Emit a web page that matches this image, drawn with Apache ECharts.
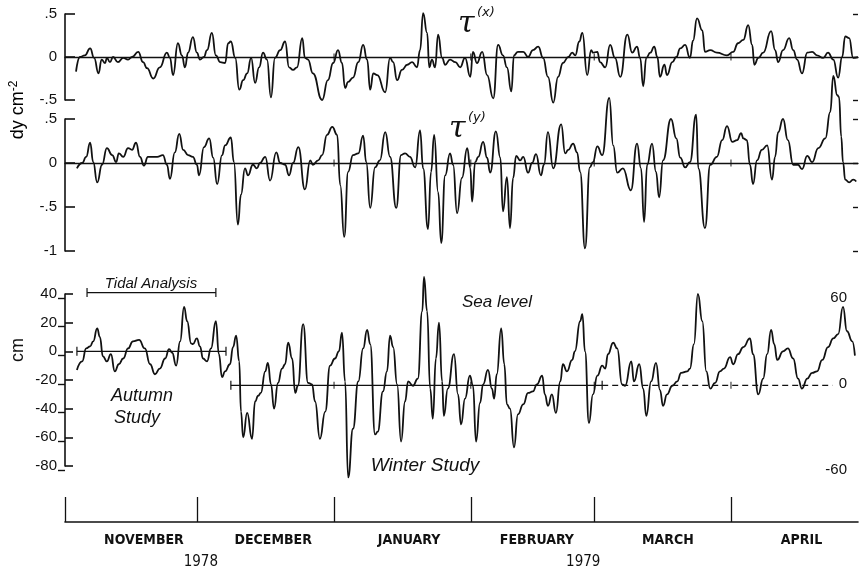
<!DOCTYPE html>
<html><head><meta charset="utf-8">
<script src="https://cdn.jsdelivr.net/npm/echarts@6/dist/echarts.min.js"></script>
<style>html,body{margin:0;padding:0;background:#fff}#c{width:859px;height:573px}</style>
</head><body><div id="c"></div>
<script>
// x values are days since 1 Nov 1978
const tauxDay = [2.5,3.4,4.5,5.7,6.6,7.6,8.3,9.1,9.5,10.2,10.9,12.0,13.2,14.3,15.2,16.6,17.7,18.6,20.0,21.5,23.1,23.8,24.5,25.6,26.5,27.2,27.9,29.0,29.9,30.6,31.5,32.2,33.3,34.2,35.2,36.3,37.0,37.6,38.6,39.5,40.4,41.3,42.2,43.1,44.0,44.9,45.8,46.7,47.6,48.8,49.9,50.8,51.7,52.6,53.8,54.4,55.1,56.2,58.3,59.6,60.8,61.9,62.8,63.5,64.2,65.3,66.5,67.6,68.5,69.2,69.9,70.8,72.6,73.7,74.4,75.3,76.4,77.6,78.7,79.8,80.5,81.2,82.1,82.6,83.2,83.9,84.6,85.5,86.2,87.3,88.5,89.6,90.7,91.9,92.5,93.4,94.6,95.7,97.1,98.2,99.3,100.2,101.2,101.8,102.7,103.9,105.0,106.1,107.3,108.4,109.5,110.7,111.8,112.9,114.1,115.0,115.7,116.6,117.3,118.4,119.3,119.7,120.7,121.3,122.5,123.6,124.7,125.9,127.5,128.6,129.7,130.4,131.1,131.8,132.7,133.6,134.3,134.9,135.9,136.5,137.7,138.6,139.5,140.6,141.7,142.4,143.3,144.5,145.1,146.3,147.8,150.1,151.5,152.6,153.8,154.9,155.8,156.3,157.2,158.3,160.1,161.0,161.7,162.8,164.2,165.1,166.0,167.1,168.3,169.4,170.5,171.9,173.0,174.2,175.3,176.2,176.9,177.8,178.7,179.8];
const tauxVal = [-0.17,0.0,0.02,0.10,-0.01,-0.19,-0.03,-0.07,-0.01,-0.06,0.0,-0.06,-0.01,-0.03,0.0,0.06,-0.06,-0.13,-0.25,-0.12,0.05,-0.01,-0.21,0.16,0.02,-0.12,0.05,0.23,0.05,-0.03,0.0,0.08,0.28,0.02,-0.06,-0.07,0.16,0.18,-0.01,-0.38,-0.27,-0.19,-0.01,-0.30,-0.12,0.05,-0.03,-0.47,-0.01,0.08,0.18,-0.12,-0.15,-0.12,0.22,-0.01,-0.03,-0.19,-0.50,-0.27,-0.07,0.08,-0.07,-0.36,-0.29,-0.24,-0.06,0.14,-0.03,-0.38,-0.19,-0.21,-0.41,-0.01,-0.06,-0.27,-0.15,-0.09,-0.06,-0.12,0.08,0.51,0.28,-0.12,-0.03,-0.12,0.26,-0.01,-0.09,-0.03,-0.06,-0.12,-0.01,-0.23,0.06,-0.07,0.06,-0.21,-0.48,0.14,0.02,-0.12,-0.40,0.02,0.06,0.06,0.0,0.08,0.12,-0.01,-0.23,-0.53,-0.23,-0.07,0.0,0.05,0.02,0.18,0.28,-0.21,0.08,0.05,0.06,-0.06,-0.12,0.14,-0.01,-0.23,0.26,0.05,0.12,-0.01,-0.34,-0.01,0.05,0.12,0.0,-0.23,-0.09,-0.21,-0.06,0.0,0.10,0.14,-0.01,0.19,0.45,0.31,0.06,0.08,0.05,0.02,0.06,0.16,0.20,0.37,0.14,-0.09,-0.01,0.05,0.30,0.08,-0.06,0.08,0.22,0.08,-0.03,-0.19,0.05,0.06,0.02,-0.01,0.05,-0.03,-0.24,0.0,0.24,0.22,-0.01,0.0];

const tauyDay = [2.7,3.9,4.8,5.7,6.4,7.3,8.4,9.5,10.7,11.6,12.2,13.2,14.3,15.2,16.1,17.0,17.9,18.8,20.9,22.2,23.1,23.8,24.9,25.9,26.8,27.9,29.0,29.9,30.4,31.5,32.7,33.6,34.5,35.6,36.3,37.6,38.3,39.2,39.9,40.8,41.5,42.6,43.5,44.2,45.4,46.5,47.9,48.8,49.9,50.8,51.7,52.9,54.4,55.6,56.2,57.4,58.3,59.4,60.6,61.7,62.4,63.3,64.2,65.3,66.5,67.6,68.3,69.2,70.3,71.4,72.6,73.7,75.1,76.2,77.1,78.2,79.4,80.5,81.2,82.3,83.0,83.7,84.6,85.3,86.2,87.3,88.0,88.9,90.0,91.2,91.9,92.3,93.0,93.7,94.8,95.7,96.4,97.7,98.7,99.3,100.2,100.9,101.6,102.3,103.2,103.9,105.0,105.9,106.8,107.9,108.6,109.5,110.7,112.5,113.4,114.1,115.2,116.1,116.8,117.9,119.0,119.7,120.7,121.8,123.4,124.3,125.2,126.5,128.3,129.7,130.6,131.3,132.0,133.1,134.0,134.7,135.6,137.4,138.6,139.5,140.6,141.7,143.1,143.6,145.1,146.3,147.8,149.0,150.1,151.3,152.4,153.3,153.8,154.6,155.3,156.0,156.9,158.0,159.2,160.3,161.0,161.7,162.8,163.9,165.1,166.2,167.1,168.3,169.4,170.8,172.4,173.5,174.2,175.1,175.5,176.0,176.4,176.9,177.8,178.7,179.4];
const tauyVal = [-0.06,0.0,0.07,0.23,0.01,-0.22,-0.02,0.17,0.09,0.01,0.11,0.07,0.17,0.15,0.23,0.07,-0.03,0.07,0.07,0.09,-0.02,-0.18,0.12,0.33,0.15,0.09,0.07,-0.02,-0.14,0.18,0.28,0.06,-0.24,0.09,0.20,0.29,0.01,-0.70,-0.36,-0.06,-0.14,-0.02,-0.06,0.0,0.07,-0.20,0.12,0.0,-0.02,-0.14,0.0,0.18,-0.30,0.03,-0.02,0.03,0.09,0.32,0.41,0.32,-0.25,-0.84,-0.10,0.09,0.11,0.31,0.01,-0.51,-0.05,0.03,0.35,0.07,-0.51,0.09,0.11,0.07,-0.05,0.37,-0.06,-0.75,-0.10,0.32,-0.33,-0.91,-0.14,0.11,-0.02,-0.57,-0.17,0.17,-0.06,-0.44,0.01,0.07,0.24,0.06,-0.11,0.36,0.06,-0.55,-0.16,-0.74,-0.17,0.08,0.03,0.07,-0.11,0.0,0.10,-0.14,-0.02,0.35,-0.06,0.44,0.11,0.15,0.22,0.12,-0.10,-0.97,-0.05,0.01,0.19,0.09,0.74,0.20,-0.11,-0.06,-0.31,0.22,-0.06,-0.67,-0.02,0.22,-0.10,-0.39,0.03,0.50,0.28,0.06,-0.05,0.01,0.55,-0.06,-0.74,-0.02,0.07,0.26,0.42,0.24,0.26,0.34,0.28,0.26,-0.02,-0.24,0.03,0.15,0.20,-0.19,0.07,0.35,0.50,0.26,-0.02,-0.02,-0.07,0.08,0.01,0.17,0.28,0.58,0.99,0.77,0.75,0.30,0.01,-0.19,-0.22,-0.19,-0.21];

const seaDay = [2.7,3.9,4.8,5.7,6.4,7.3,7.9,8.6,9.5,10.4,11.3,12.2,13.2,14.3,15.4,16.8,18.1,19.3,20.4,21.5,22.7,23.6,24.3,25.2,26.1,27.0,27.7,28.6,29.0,29.9,30.6,31.3,32.2,33.1,34.2,34.9,35.6,36.3,37.4,38.1,38.8,39.5,39.9,40.4,41.3,42.4,43.1,43.8,44.4,45.4,46.0,46.7,47.4,48.3,49.2,49.9,50.6,51.5,52.2,52.8,54.0,55.1,56.0,56.7,57.8,59.0,60.1,61.2,62.1,62.8,63.5,64.2,65.3,66.5,67.6,68.5,69.2,70.3,70.9,72.1,73.0,73.7,74.4,75.3,76.2,77.1,77.8,78.9,80.0,81.0,81.4,82.1,82.8,83.4,84.1,84.8,85.5,85.9,86.8,88.2,89.1,89.8,90.7,91.8,92.5,93.2,94.1,94.8,95.9,96.8,97.3,97.9,98.9,99.6,100.2,100.9,101.8,102.7,103.9,105.0,106.1,107.0,108.2,108.8,109.5,110.4,111.3,112.3,112.9,113.8,115.0,115.6,116.8,117.3,117.9,118.8,119.7,120.7,121.8,122.5,123.1,124.3,125.2,126.3,127.0,128.4,129.0,130.2,131.1,131.8,132.9,134.0,134.9,135.6,136.5,137.7,138.8,139.7,141.1,141.7,142.6,143.5,144.5,145.4,146.3,147.4,148.5,149.4,150.8,151.5,152.6,153.8,155.3,156.0,157.2,158.3,159.2,160.1,160.8,161.5,162.8,163.9,165.1,166.2,167.1,168.3,169.4,170.5,171.7,173.0,174.2,175.3,176.4,177.3,178.5,179.1];
const seaVal = [-13,-7,2,3.5,7,16,10,-3.5,-7,-2,-14,-9,-5,2,7,8,2,-9,-16,-12,-5,1.5,-1,-10,7,31,21,5.5,5,9,3.5,-5,-7,2,21,-2,-18,-14,-9,3,11,-7,-42,-60,-43,-61,-35,-31,-29,-14,-8,-23,-40,-22,-12,-9,6,-5,-29,-24,19,-22,-23,-35,-61,-42,-10,-5,0,13,-21,-88,-54,-21,2,15,5,-58,-56,-28,-14,11,3,-23,-63,-35,-21,-24,-19,28,52,28,-26,-47,-5,20,-21,-45,-26,-2,-30,-51,-33,-17,-24,-63,-36,-23,-13,-26,-33,-16,16,-9,-37,-40,-67,-44,-37,-29,-28,-23,-17,-30,-38,-30,-43,-21,-9,-14,-6,0,21,26,0,-50,-30,-17,-10,-12,-2,6,2,-23,-24,-7,-21,-9,-26,-45,-21,-8,-27,-38,-30,-24,-21,-15,-14,-12,5,40,21,-14,-26,-22,-14,-12,-4,-9,-2,3,9,-2,-30,-19,-2,15,5,-6,0,2,-5,-19,-26,-19,-15,-14,-6,3,9,12,31,14,7,-3];

// reference (study mean) lines and tidal-analysis bracket
const autumnLine = [[2.7,0],[36.5,0]];
const winterLine = [[37.6,-23.7],[121.8,-23.7]];
const winterDashed = [[121.8,-23.7],[174.0,-23.7]];
const tidalBracket = [[5.0,41],[34.2,41]];
const monthStarts = [0,30,61,92,120,151];
const monthNames = ['NOVEMBER','DECEMBER','JANUARY','FEBRUARY','MARCH','APRIL'];
const monthLabelPos = [17.9,47.2,78,107,136.7,167];
const yearNames = ['1978','1979'];
const yearLabelPos = [30.8,117.5];
const XMAX = 179.8;

const pair = (d,v)=>d.map((x,i)=>[x,v[i]]);
const fmtTau = v => v===0?'0':(v>0?String(v).replace(/^0/,''):'-'+String(-v).replace(/^0/,''));
const BLACK='#111';
const FONT="'Liberation Sans', Arial, sans-serif";
const CONDF="'Liberation Sans Narrow','DejaVu Sans Condensed','Liberation Sans',sans-serif";

const chart = echarts.init(document.getElementById('c'), null, {renderer:'canvas'});
const hiddenX = (gi, showZero) => ({type:'value', gridIndex:gi, min:0, max:XMAX, show:true,
  axisLine:{show:!!showZero, onZero:true, lineStyle:{color:BLACK,width:1.3}},
  axisTick:{show:false}, axisLabel:{show:false}, splitLine:{show:false}});
const markTicks = (gi, y) => ({type:'scatter', xAxisIndex:gi, yAxisIndex:gi, symbol:'rect', symbolSize:[1.2,7],
  itemStyle:{color:BLACK}, silent:true, z:3, data: monthStarts.slice(2).map(m=>[m,y])});
const curve = (gi, d, v) => ({type:'line', xAxisIndex:gi, yAxisIndex:gi, data:pair(d,v), showSymbol:false,
  smooth:0.5, smoothMonotone:'x', clip:false, lineStyle:{color:BLACK,width:1.8}, z:5});

chart.setOption({
  animation:false,
  textStyle:{fontFamily:FONT},
  grid:[
    {left:65,right:1,top:14,height:86},
    {left:65,right:1,top:119,height:132},
    {left:65,right:1,top:294,height:172},
    {left:65,right:1,top:298,height:172},
    {left:65,right:1,top:497,height:25}
  ],
  xAxis:[
    hiddenX(0,true), hiddenX(1,true), hiddenX(2,false), hiddenX(3,false),
    {type:'value', gridIndex:4, min:0, max:XMAX, position:'bottom',
      axisLine:{show:true, lineStyle:{color:BLACK,width:1.6}},
      axisTick:{show:true, inside:true, length:25, customValues:monthStarts, lineStyle:{color:BLACK,width:1.3}},
      axisLabel:{show:true, customValues:monthLabelPos, margin:11, color:BLACK, fontSize:14, fontWeight:'bold', fontFamily:CONDF,
        formatter:v=>{const i=monthLabelPos.findIndex(p=>Math.abs(p-v)<0.01);return i>=0?monthNames[i]:'';}},
      splitLine:{show:false}},
    {type:'value', gridIndex:4, min:0, max:XMAX, position:'bottom', offset:22,
      axisLine:{show:false}, axisTick:{show:false},
      axisLabel:{show:true, customValues:yearLabelPos, margin:11, color:BLACK, fontSize:15, fontFamily:CONDF,
        formatter:v=>{const i=yearLabelPos.findIndex(p=>Math.abs(p-v)<0.01);return i>=0?yearNames[i]:'';}},
      splitLine:{show:false}}
  ],
  yAxis:[
    {type:'value', gridIndex:0, min:-0.5, max:0.5, interval:0.5,
      axisLine:{show:true,lineStyle:{color:BLACK,width:1.6}}, axisTick:{show:true,inside:true,length:10,lineStyle:{color:BLACK,width:1.6}},
      axisLabel:{color:BLACK,fontSize:15,margin:8,formatter:fmtTau}, splitLine:{show:false}},
    {type:'value', gridIndex:1, min:-1, max:0.5, interval:0.5,
      axisLine:{show:true,lineStyle:{color:BLACK,width:1.6}}, axisTick:{show:true,inside:true,length:10,lineStyle:{color:BLACK,width:1.6}},
      axisLabel:{color:BLACK,fontSize:15,margin:8,formatter:fmtTau}, splitLine:{show:false}},
    {type:'value', gridIndex:2, min:-80, max:40, interval:20,
      axisLine:{show:true,lineStyle:{color:BLACK,width:1.6}}, axisTick:{show:true,inside:true,length:8,lineStyle:{color:BLACK,width:1.6}},
      axisLabel:{color:BLACK,fontSize:15,margin:8}, splitLine:{show:false}},
    {type:'value', gridIndex:3, min:-60, max:60, interval:20, position:'right',
      axisLine:{show:false}, axisTick:{show:true,inside:true,length:7,lineStyle:{color:BLACK,width:1.4}},
      axisLabel:{show:true,inside:true,color:BLACK,fontSize:15,margin:11,formatter:v=>(v===60||v===0||v===-60)?String(v):''}, splitLine:{show:false}},
    {type:'value', gridIndex:4, show:false, min:0, max:1},
    {type:'value', gridIndex:0, min:-0.5, max:0.5, interval:0.5, position:'right',
      axisLine:{show:false}, axisTick:{show:true,inside:true,length:5,lineStyle:{color:BLACK,width:1.4}}, axisLabel:{show:false}, splitLine:{show:false}},
    {type:'value', gridIndex:1, min:-1, max:0.5, interval:0.5, position:'right',
      axisLine:{show:false}, axisTick:{show:true,inside:true,length:5,lineStyle:{color:BLACK,width:1.4}}, axisLabel:{show:false}, splitLine:{show:false}}
  ],
  series:[
    curve(0, tauxDay, tauxVal),
    curve(1, tauyDay, tauyVal),
    curve(2, seaDay, seaVal),
    {type:'line', xAxisIndex:2, yAxisIndex:2, data:autumnLine, showSymbol:false, lineStyle:{color:BLACK,width:1.3}},
    {type:'line', xAxisIndex:2, yAxisIndex:2, data:winterLine, showSymbol:false, lineStyle:{color:BLACK,width:1.3}},
    {type:'line', xAxisIndex:2, yAxisIndex:2, data:winterDashed, showSymbol:false, lineStyle:{color:BLACK,width:1.2,type:[6,4]}},
    {type:'line', xAxisIndex:2, yAxisIndex:2, data:tidalBracket, showSymbol:false, clip:false, lineStyle:{color:BLACK,width:1.3}},
    {type:'scatter', xAxisIndex:2, yAxisIndex:2, symbol:'rect', symbolSize:[1.5,9], itemStyle:{color:BLACK}, clip:false,
      data:[...autumnLine, ...winterLine, ...tidalBracket]},
    markTicks(0,0), markTicks(1,0),
    {type:'scatter', xAxisIndex:2, yAxisIndex:2, symbol:'rect', symbolSize:[1.2,7], itemStyle:{color:BLACK},
      data: monthStarts.slice(2).map(m=>[m,-23.7])}
  ],
  graphic:[
    {type:'text', x:458, y:9, style:{text:'τ', font:"italic 30px 'DejaVu Serif', serif", fill:BLACK}},
    {type:'text', x:477, y:6, style:{text:'(x)', font:"italic 13px 'DejaVu Sans', sans-serif", fill:BLACK}},
    {type:'text', x:449, y:114, style:{text:'τ', font:"italic 30px 'DejaVu Serif', serif", fill:BLACK}},
    {type:'text', x:468, y:111, style:{text:'(y)', font:"italic 13px 'DejaVu Sans', sans-serif", fill:BLACK}},
    {type:'text', x:18, y:110, rotation:Math.PI/2, style:{text:'{a|dy cm}{b|-2}', align:'center', verticalAlign:'middle',
      rich:{a:{fontSize:18,fontFamily:FONT,color:BLACK}, b:{fontSize:12,fontFamily:FONT,color:BLACK,padding:[0,0,9,0]}}}},
    {type:'text', x:18, y:350, rotation:Math.PI/2, style:{text:'cm', font:"18px 'Liberation Sans', sans-serif", fill:BLACK, align:'center', verticalAlign:'middle'}},
    {type:'text', x:151, y:284, style:{text:'Tidal Analysis', font:"italic 15px 'Liberation Sans', sans-serif", fill:BLACK, align:'center', verticalAlign:'middle'}},
    {type:'text', x:142, y:396, style:{text:'Autumn', font:"italic 18px 'Liberation Sans', sans-serif", fill:BLACK, align:'center', verticalAlign:'middle'}},
    {type:'text', x:137, y:418, style:{text:'Study', font:"italic 18px 'Liberation Sans', sans-serif", fill:BLACK, align:'center', verticalAlign:'middle'}},
    {type:'text', x:497, y:302, style:{text:'Sea level', font:"italic 17px 'Liberation Sans', sans-serif", fill:BLACK, align:'center', verticalAlign:'middle'}},
    {type:'text', x:425, y:466, style:{text:'Winter Study', font:"italic 19px 'Liberation Sans', sans-serif", fill:BLACK, align:'center', verticalAlign:'middle'}}
  ]
});
</script></body></html>
